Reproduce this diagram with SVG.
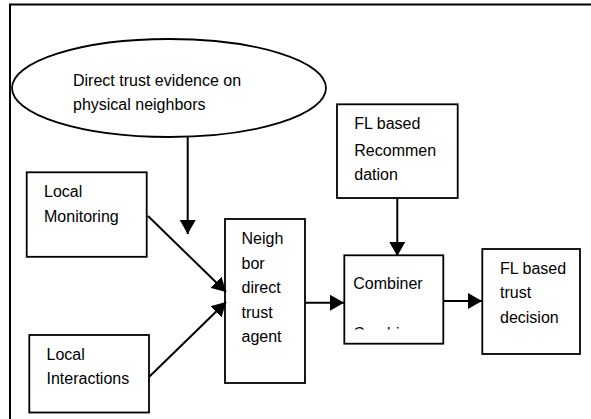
<svg xmlns="http://www.w3.org/2000/svg" width="591" height="419" viewBox="0 0 591 419">
<style>
.box{fill:#fff;stroke:#000;stroke-width:1.8}
.t{font-family:"Liberation Sans",Arial,sans-serif;font-size:16px;fill:#000}
.c{stroke:#000;stroke-width:2;fill:none}
</style>
<defs>
<marker id="ahb" viewBox="0 0 14 16" refX="14" refY="8" markerWidth="14" markerHeight="16" orient="auto" markerUnits="userSpaceOnUse">
<path d="M0,0 L14,8 L0,16 z" fill="#000"/>
</marker>
<clipPath id="clipC"><rect x="344" y="326" width="99" height="3.5"/></clipPath>
</defs>
<rect width="591" height="419" fill="#fff"/>
<g id="frame">
<path d="M10,419 V4.5 H591" fill="none" stroke="#000" stroke-width="2"/>
</g>
<g id="evidence">
<ellipse cx="169" cy="88" rx="157" ry="49" class="box"/>
<text class="t" x="73" y="86">Direct trust evidence on</text>
<text class="t" x="73" y="110">physical neighbors</text>
</g>
<g id="monitoring">
<rect x="26.7" y="172.3" width="120" height="84.5" class="box"/>
<text class="t" x="44" y="196.7">Local</text>
<text class="t" x="44" y="221.7">Monitoring</text>
</g>
<g id="interactions">
<rect x="29.3" y="335" width="119.7" height="77.5" class="box"/>
<text class="t" x="46.5" y="360">Local</text>
<text class="t" x="46.5" y="384">Interactions</text>
</g>
<g id="neighbor">
<rect x="225" y="219" width="80" height="164" class="box"/>
<text class="t" x="241.5" y="244">Neigh</text>
<text class="t" x="241.5" y="268.5">bor</text>
<text class="t" x="241.5" y="293">direct</text>
<text class="t" x="241.5" y="317.5">trust</text>
<text class="t" x="241.5" y="342">agent</text>
</g>
<g id="recommendation">
<rect x="337" y="104.3" width="120.7" height="93.7" class="box"/>
<text class="t" x="354.3" y="129.3">FL based</text>
<text class="t" x="354.3" y="156">Recommen</text>
<text class="t" x="354.3" y="179.5">dation</text>
</g>
<g id="combiner">
<rect x="344.3" y="255.3" width="99" height="88.4" class="box"/>
<text class="t" x="353.3" y="289.3">Combiner</text>
<text class="t" x="353.3" y="339" clip-path="url(#clipC)">Combiner</text>
</g>
<g id="decision">
<rect x="482.3" y="249" width="97.7" height="105" class="box"/>
<text class="t" x="500" y="274">FL based</text>
<text class="t" x="500" y="298.3">trust</text>
<text class="t" x="500" y="322.7">decision</text>
</g>
<g id="connectors">
<line class="c" x1="187.7" y1="137" x2="187.7" y2="234" marker-end="url(#ahb)"/>
<line class="c" x1="148" y1="216" x2="226" y2="292" marker-end="url(#ahb)"/>
<line class="c" x1="149" y1="377" x2="226" y2="302" marker-end="url(#ahb)"/>
<line class="c" x1="305" y1="302.7" x2="344" y2="302.7" marker-end="url(#ahb)"/>
<line class="c" x1="397.3" y1="198" x2="397.3" y2="256" marker-end="url(#ahb)"/>
<line class="c" x1="443.3" y1="301" x2="482" y2="301" marker-end="url(#ahb)"/>
</g>
</svg>
